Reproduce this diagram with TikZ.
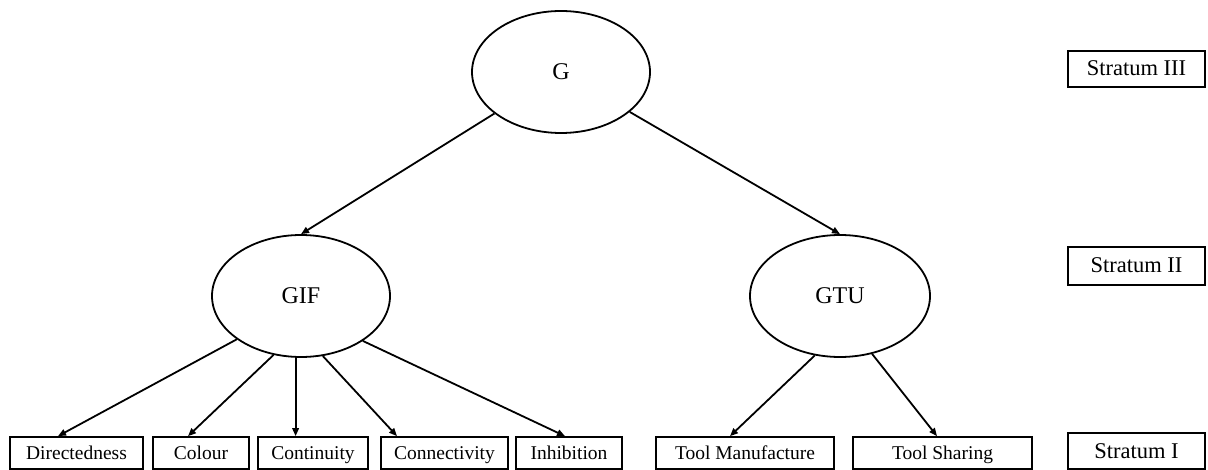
\documentclass[tikz,border=0pt]{standalone}
\usepackage{fontspec}
\setmainfont{Liberation Serif}
\usetikzlibrary{shapes.geometric, arrows.meta, positioning}

\begin{document}
\begin{tikzpicture}[
    x=1pt, y=-1pt,
    >={Triangle[length=8pt, width=6.5pt]},
    factor/.style={ellipse, draw=black, line width=1.8pt, inner sep=0pt, minimum width=178pt, minimum height=122pt, font=\fontsize{24}{28}\selectfont},
    taskbox/.style={rectangle, draw=black, line width=1.7pt, inner sep=0pt, minimum height=32pt, text height=15pt, text depth=2pt, font=\fontsize{19.5}{22}\selectfont},
    stratumbox/.style={rectangle, draw=black, line width=1.7pt, inner sep=0pt, minimum width=137pt, minimum height=36pt, text height=16pt, text depth=2pt, font=\fontsize{22.5}{26}\selectfont},
    line/.style={draw=black, line width=1.8pt, ->}
]
    \useasboundingbox (0,0) rectangle (1208,470);

    % Stratum III
    \node [factor] (g) at (561, 72) {G};

    % Stratum II
    \node [factor] (gif) at (301, 296) {GIF};
    \node [factor, minimum width=180pt] (gtu) at (840, 296) {GTU};

    % Stratum I
    \node [taskbox, minimum width=133pt] (directedness) at (76.5, 453) {Directedness};
    \node [taskbox, minimum width=96pt] (colour) at (201, 453) {Colour};
    \node [taskbox, minimum width=110pt] (continuity) at (313, 453) {Continuity};
    \node [taskbox, minimum width=127pt] (connectivity) at (444.5, 453) {Connectivity};
    \node [taskbox, minimum width=106pt] (inhibition) at (569, 453) {Inhibition};
    \node [taskbox, minimum width=178pt] (toolmanufacture) at (745, 453) {Tool Manufacture};
    \node [taskbox, minimum width=179pt] (toolsharing) at (942.5, 453) {Tool Sharing};

    % Strata labels
    \node [stratumbox] (stratumIII) at (1136.5, 69) {Stratum III};
    \node [stratumbox, minimum height=38pt] (stratumII) at (1136.5, 266) {Stratum II};
    \node [stratumbox] (stratumI) at (1136.5, 451) {Stratum I};

    \draw [line] (g) -- (gif.north);
    \draw [line] (g) -- (gtu.north);

    \draw [line] (gif.214) -- ([xshift=-18.5pt]directedness.north);
    \draw [line] (gif.245) -- ([xshift=-13pt]colour.north);
    \draw [line] (gif.265) -- (gif.265 |- continuity.north);
    \draw [line] (gif.290) -- ([xshift=-47.5pt]connectivity.north);
    \draw [line] (gif.-36) -- ([xshift=-4pt]inhibition.north);

    \draw [line] (gtu.247) -- ([xshift=-15pt]toolmanufacture.north);
    \draw [line] (gtu.-61) -- ([xshift=-5.5pt]toolsharing.north);

\end{tikzpicture}
\end{document}
